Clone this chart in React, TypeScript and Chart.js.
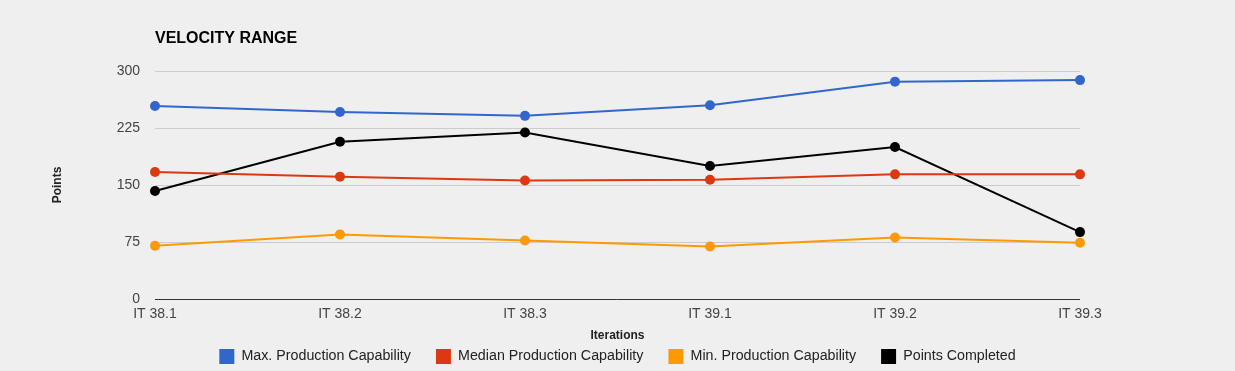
import React, { useEffect, useRef } from "react";
import { Chart, registerables } from "chart.js";

Chart.register(...registerables);

const categories = ["IT 38.1", "IT 38.2", "IT 38.3", "IT 39.1", "IT 39.2", "IT 39.3"];
const maxCapability = [254, 246, 241, 255, 286, 288];
const medianCapability = [167, 161, 156, 157, 164, 164];
const minCapability = [70, 85, 77, 69, 81, 74];
const pointsCompleted = [142, 207, 219, 175, 200, 88];
const yTicks = [0, 75, 150, 225, 300];

const FONT = "'Liberation Sans', Arial, sans-serif";

const titlePlugin = {
  id: "leftTitle",
  afterDraw(chart: any) {
    const { ctx, chartArea } = chart;
    ctx.save();
    ctx.font = `bold 16px ${FONT}`;
    ctx.fillStyle = "#000";
    ctx.textAlign = "left";
    ctx.textBaseline = "middle";
    ctx.fillText("VELOCITY RANGE", chartArea.left, 39);
    ctx.restore();
  },
};

export default function App() {
  const ref = useRef<HTMLCanvasElement | null>(null);

  useEffect(() => {
    document.body.style.margin = "0";
    if (!ref.current) return;
    const mk = (label: string, data: number[], color: string) => ({
      label,
      data,
      borderColor: color,
      backgroundColor: color,
      pointBackgroundColor: color,
      pointBorderWidth: 0,
      pointRadius: 5,
      borderWidth: 2,
      tension: 0,
    });
    const chart = new Chart(ref.current, {
      type: "line",
      data: {
        labels: categories,
        datasets: [
          mk("Max. Production Capability", maxCapability, "#3366cc"),
          mk("Median Production Capability", medianCapability, "#dc3912"),
          mk("Min. Production Capability", minCapability, "#ff9900"),
          mk("Points Completed", pointsCompleted, "#000000"),
        ],
      },
      options: {
        responsive: false,
        animation: false,
        layout: { padding: { top: 71, left: 0, right: 0, bottom: -3 } },
        font: { family: FONT },
        scales: {
          x: {
            offset: false,
            grid: { display: false, drawTicks: false },
            border: { display: false },
            ticks: { color: "#444", font: { size: 14, family: FONT }, padding: 7, maxRotation: 0 },
            title: {
              display: true,
              text: "Iterations",
              color: "#222",
              font: { size: 12, weight: "bold", family: FONT },
              padding: { top: 0, bottom: -19.2 },
            },
            afterFit: (s: any) => {
              s.height = 25;
            },
          },
          y: {
            min: 0,
            max: 300,
            afterBuildTicks: (s: any) => {
              s.ticks = yTicks.map((v) => ({ value: v }));
            },
            grid: {
              drawTicks: false,
              color: (c: any) => (c.tick && c.tick.value === 0 ? "#333" : "#ccc"),
              lineWidth: 1,
            },
            border: { display: false },
            ticks: { color: "#444", font: { size: 14, family: FONT }, padding: 15 },
            title: {
              display: true,
              text: "Points",
              color: "#222",
              font: { size: 12, weight: "bold", family: FONT },
              padding: { top: 50.8, bottom: 0 },
            },
            afterFit: (s: any) => {
              s.width = 155;
            },
          },
          yRight: {
            type: "linear",
            position: "right",
            display: true,
            grid: { display: false, drawTicks: false },
            border: { display: false },
            ticks: { display: false },
            afterFit: (s: any) => {
              s.width = 155;
            },
          },
        },
        plugins: {
          title: { display: false },
          tooltip: { enabled: false },
          legend: {
            position: "bottom",
            align: "center",
            labels: {
              boxWidth: 15,
              boxHeight: 15,
              padding: 25,
              color: "#222",
              font: { size: 14.25, family: FONT },
              generateLabels: (c: any) =>
                (Chart.defaults.plugins.legend.labels as any)
                  .generateLabels(c)
                  .map((l: any) => ({ ...l, lineWidth: 0 })),
            },
          },
        },
      } as any,
      plugins: [titlePlugin],
    });
    return () => chart.destroy();
  }, []);

  return (
    <div
      style={{
        position: "absolute",
        left: 0,
        top: 0,
        width: 1235,
        height: 371,
        background: "#efefef",
      }}
    >
      <canvas ref={ref} width={1235} height={371} style={{ display: "block" }} />
    </div>
  );
}
